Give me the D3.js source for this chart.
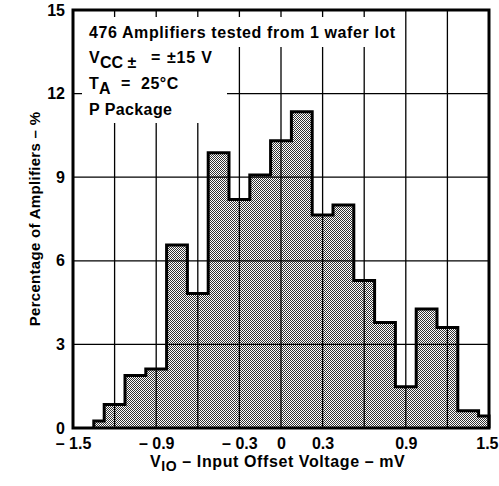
<!DOCTYPE html>
<html>
<head>
<meta charset="utf-8">
<script src="https://cdn.jsdelivr.net/npm/d3@7"></script>
<style>
  html, body { margin: 0; padding: 0; background: #fff; }
  svg { display: block; }
  text { font-family: "Liberation Sans", Arial, Helvetica, sans-serif; font-weight: bold; fill: #000; }
</style>
</head>
<body>
<svg id="chart" width="499" height="486"></svg>
<script>
// ---- data ----
const binEdges = [-1.35, -1.275, -1.125, -0.975, -0.825, -0.675, -0.525, -0.375, -0.225, -0.075,
                  0.075, 0.225, 0.375, 0.525, 0.675, 0.825, 0.975, 1.125, 1.275, 1.425, 1.5];
const percentages = [0.25, 0.84, 1.88, 2.12, 6.57, 4.83, 9.88, 8.2, 9.08, 10.31,
                     11.35, 7.64, 8.0, 5.29, 3.79, 1.48, 4.27, 3.61, 0.62, 0.43];
const xTickValues = [-1.5, -0.9, -0.3, 0, 0.3, 0.9, 1.5];
const xTickLabels = ["\u2013 1.5", "\u2013 0.9", "\u2013 0.3", "0", "0.3", "0.9", "1.5"];
const xGridValues = [-1.2, -0.9, -0.6, -0.3, 0, 0.3, 0.6, 0.9, 1.2];
const yTickValues = [0, 3, 6, 9, 12, 15];
const yGridValues = [3, 6, 9, 12];

// ---- layout ----
const svg = d3.select("#chart");
const L = 73, R = 489, T = 10, B = 428;
const x = d3.scaleLinear().domain([-1.5, 1.5]).range([L, R]);
const y = d3.scaleLinear().domain([0, 15]).range([B, T]);
const FONT = '"Liberation Sans", Arial, Helvetica, sans-serif';

// pattern (stipple)
const defs = svg.append("defs");
const pat = defs.append("pattern").attr("id", "stipple")
  .attr("patternUnits", "userSpaceOnUse").attr("width", 2).attr("height", 2);
pat.append("rect").attr("width", 2).attr("height", 2).attr("fill", "#ffffff");
pat.append("rect").attr("x", 0).attr("y", 0).attr("width", 1).attr("height", 1).attr("fill", "#333");
pat.append("rect").attr("x", 1).attr("y", 1).attr("width", 1).attr("height", 1).attr("fill", "#333");

// step points
const pts = [[binEdges[0], 0]];
percentages.forEach((v, i) => {
  pts.push([binEdges[i], v]);
  pts.push([binEdges[i + 1], v]);
});
pts.push([binEdges[binEdges.length - 1], 0]);

// fill
svg.append("path")
  .attr("d", d3.area().x(d => x(d[0])).y0(y(0)).y1(d => y(d[1]))(pts))
  .attr("fill", "url(#stipple)");

// gridlines
svg.append("g").selectAll("line").data(xGridValues).join("line")
  .attr("x1", d => x(d)).attr("x2", d => x(d))
  .attr("y1", T).attr("y2", B)
  .attr("stroke", "#000").attr("stroke-width", 1.3);
svg.append("g").selectAll("line").data(yGridValues).join("line")
  .attr("x1", L).attr("x2", R)
  .attr("y1", d => y(d)).attr("y2", d => y(d))
  .attr("stroke", "#000").attr("stroke-width", 1.3);

// white boxes behind annotation
svg.append("rect").attr("x", 82).attr("y", 17).attr("width", 320).attr("height", 30).attr("fill", "#fff");
svg.append("rect").attr("x", 82).attr("y", 47).attr("width", 145).attr("height", 76).attr("fill", "#fff");

// outline
svg.append("path")
  .attr("d", d3.line().x(d => x(d[0])).y(d => y(d[1]))(pts))
  .attr("fill", "none").attr("stroke", "#000").attr("stroke-width", 3)
  .attr("stroke-linejoin", "miter");

// frame
svg.append("rect").attr("x", L).attr("y", T).attr("width", R - L).attr("height", B - T)
  .attr("fill", "none").attr("stroke", "#000").attr("stroke-width", 3);

// axes (labels only)
const xAxis = svg.append("g").attr("transform", `translate(0,${B})`)
  .call(d3.axisBottom(x).tickValues(xTickValues)
    .tickFormat((d, i) => xTickLabels[i]).tickSize(0).tickPadding(10));
xAxis.select(".domain").remove();
xAxis.attr("font-family", null).attr("font-size", null);
xAxis.selectAll("text").attr("font-size", 16).attr("font-family", FONT).attr("font-weight", "bold");
xAxis.selectAll("text").filter(d => d === 1.5).attr("text-anchor", "end").attr("x", 9);

const yAxis = svg.append("g").attr("transform", `translate(${L},0)`)
  .call(d3.axisLeft(y).tickValues(yTickValues).tickFormat(d3.format("d")).tickSize(0).tickPadding(8));
yAxis.select(".domain").remove();
yAxis.attr("font-family", null).attr("font-size", null);
yAxis.selectAll("text").attr("font-size", 16).attr("font-family", FONT).attr("font-weight", "bold");

// axis titles
svg.append("text").attr("transform", "translate(40,219) rotate(-90)")
  .attr("text-anchor", "middle").attr("font-size", 15).attr("letter-spacing", 0.3)
  .text("Percentage of Amplifiers \u2013 %");

const xt = svg.append("text").attr("x", 150).attr("y", 467).attr("font-size", 16)
  .attr("letter-spacing", 0.6);
xt.append("tspan").text("V");
xt.append("tspan").attr("dy", 4).attr("font-size", 14).text("IO");
xt.append("tspan").attr("dy", -4).text(" \u2013 Input Offset Voltage \u2013 mV");

// annotations
svg.append("text").attr("x", 89).attr("y", 38).attr("font-size", 16).attr("letter-spacing", 0.6)
  .text("476 Amplifiers tested from 1 wafer lot");
const a2 = svg.append("text").attr("y", 63).attr("font-size", 16);
a2.append("tspan").attr("x", 89).text("V");
a2.append("tspan").attr("x", 100).attr("dy", 5).text("CC \u00B1");
a2.append("tspan").attr("x", 151).attr("dy", -5).text("=");
a2.append("tspan").attr("x", 167).attr("letter-spacing", 0.8).text("\u00B115 V");
const a3 = svg.append("text").attr("y", 89).attr("font-size", 16);
a3.append("tspan").attr("x", 89).text("T");
a3.append("tspan").attr("x", 99).attr("dy", 5).text("A");
a3.append("tspan").attr("x", 121).attr("dy", -5).text("=");
a3.append("tspan").attr("x", 141).attr("letter-spacing", 0.5).text("25\u00B0C");
svg.append("text").attr("x", 89).attr("y", 115).attr("font-size", 16).attr("letter-spacing", 0.4)
  .text("P Package");
</script>
</body>
</html>
